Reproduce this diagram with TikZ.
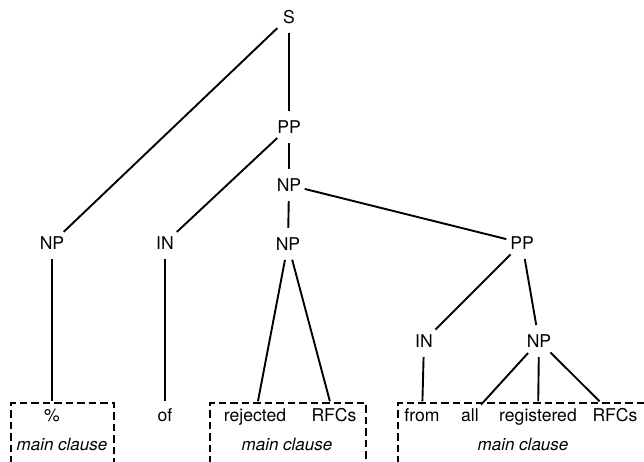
\documentclass[tikz,border=0pt]{standalone}
\usepackage{fontspec}
\setmainfont{TeX Gyre Heros}
\begin{document}
\begin{tikzpicture}[x=1pt,y=-1pt,
  every node/.style={font=\fontsize{17.6}{20}\selectfont},
  cat/.style={circle,inner sep=0pt,minimum size=32pt,text height=12.5pt,text depth=0pt},
  word/.style={anchor=base,inner xsep=2pt,inner ysep=7pt,text height=12.5pt,text depth=4pt},
  note/.style={anchor=base,font=\fontsize{17}{20}\selectfont\itshape},
  branch/.style={line width=1.9pt},
  clausebox/.style={line width=2.1pt,dash pattern=on 7.5pt off 4pt}]
\useasboundingbox (0,0) rectangle (644,461);
\clip (0,0) rectangle (644,461);
% categories
\node[cat] (S) at (289,17) {S};
\node[cat] (PP1) at (289,127) {PP};
\node[cat] (NPu) at (289,185) {NP};
\node[cat] (NPl) at (52,243) {NP};
\node[cat] (IN1) at (165,243) {IN};
\node[cat] (NPm) at (288,244) {NP};
\node[cat] (PP2) at (522,243) {PP};
\node[cat] (IN2) at (424,341) {IN};
\node[cat] (NP2) at (539,341) {NP};
% words
\node[word] (pct) at (52,421) {\%};
\node[word] (of) at (165,421) {of};
\node[word] (rej) at (255,421) {rejected};
\node[word] (rfcA) at (334,421) {RFCs};
\node[word] (from) at (422,421) {from};
\node[word] (all) at (470,421) {all};
\node[word] (reg) at (538,421) {registered};
\node[word] (rfcB) at (615,421) {RFCs};
\node[note] (mcA) at (62,450) {main clause};
\node[note] (mcB) at (287,450) {main clause};
\node[note] (mcC) at (523,450) {main clause};
% branches
\draw[branch] (S) -- (NPl);
\draw[branch] (S) -- (PP1);
\draw[branch] (PP1) -- (IN1);
\draw[branch] (PP1) -- (NPu);
\draw[branch] (NPu) -- (NPm);
\draw[branch] (NPu) -- (PP2);
\draw[branch] (NPl) -- (pct);
\draw[branch] (IN1) -- (of);
\draw[branch] (NPm) -- (rej);
\draw[branch] (NPm) -- (rfcA);
\draw[branch] (PP2) -- (IN2);
\draw[branch] (PP2) -- (NP2);
\draw[branch] (IN2) -- (from);
\draw[branch] (NP2) -- (all);
\draw[branch] (NP2) -- (reg);
\draw[branch] (NP2) -- (rfcB);
% dashed clause boxes
\draw[clausebox] (11,475) -- (11,403) -- (114,403) -- (114,475);
\draw[clausebox] (210,475) -- (210,403) -- (366,403) -- (366,475);
\draw[clausebox] (398,475) -- (398,403) -- (660,403);
\end{tikzpicture}
\end{document}
